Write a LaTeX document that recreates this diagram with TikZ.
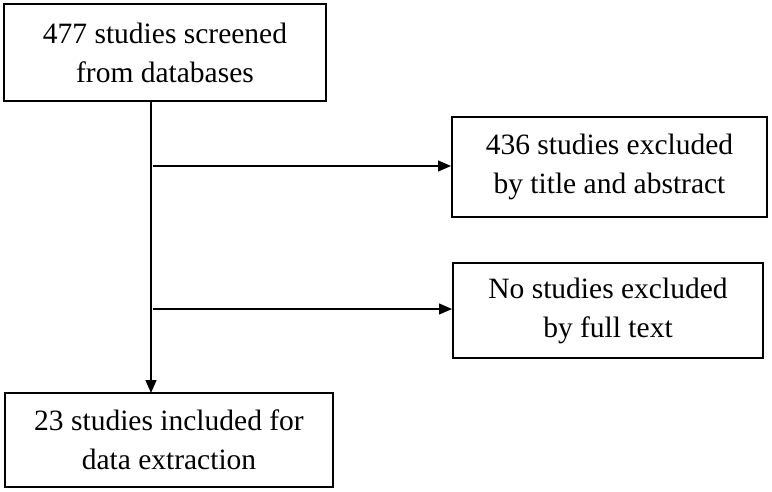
\documentclass[tikz,border=0pt]{standalone}
\usepackage{fontspec}
\setmainfont{Liberation Serif}
\usetikzlibrary{arrows.meta}
\begin{document}
\begin{tikzpicture}[x=1pt,y=-1pt,
  flowbox/.style={draw=black, line width=2pt, inner sep=0pt, align=center,
    font=\fontsize{29.5}{39}\selectfont},
  conn/.style={draw=black, line width=1.3pt},
  arr/.style={conn, -{Triangle[length=13pt,width=11pt]}}]
\useasboundingbox (0,0) rectangle (772,491);
\node[flowbox, minimum width=322pt, minimum height=97pt] (screen) at (165,52.5)
  {477 studies screened\\from databases};
\node[flowbox, minimum width=315pt, minimum height=100pt] (excl1) at (609.5,167)
  {436 studies excluded\\by title and abstract};
\node[flowbox, minimum width=310pt, minimum height=95pt] (excl2) at (608,310.5)
  {No studies excluded\\by full text};
\node[flowbox, minimum width=328pt, minimum height=94pt] (incl) at (169,440)
  {23 studies included for\\data extraction};
\coordinate (top) at (151,101);
\coordinate (bot) at (151,393);
\coordinate (b1) at (153,166);
\coordinate (b2) at (153,309);
\draw[arr] (top) -- (bot);
\draw[arr] (b1) -- (b1 -| excl1.west);
\draw[arr] (b2) -- (b2 -| excl2.west);
\end{tikzpicture}
\end{document}
